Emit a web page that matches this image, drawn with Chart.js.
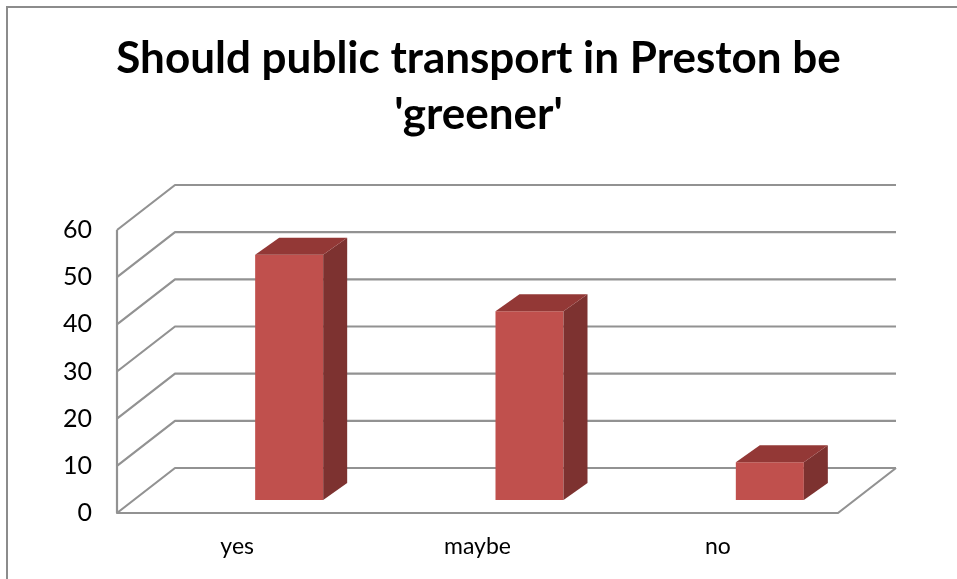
<!DOCTYPE html>
<html>
<head>
<meta charset="utf-8">
<title>Should public transport in Preston be 'greener'</title>
<script src="https://cdn.jsdelivr.net/npm/chart.js@4.4.1/dist/chart.umd.min.js"></script>
<style>
  html, body { margin: 0; padding: 0; background: #fff; }
  #wrap { position: relative; width: 957px; height: 579px; }
</style>
</head>
<body>
<div id="wrap"><canvas id="chart"></canvas></div>
<script>
  // ========================
  // Data
  // ========================
  const titleLines = ['Should public transport in Preston be', "'greener'"];
  const categories = ['yes', 'maybe', 'no'];
  const responses = [52, 40, 8];
  const yMin = 0;
  const yMax = 60;
  const yStep = 10;

  // ========================
  // Look (3D box geometry, colours)
  // ========================
  const FONT = 'Lato, "Open Sans", sans-serif';
  const GRID = '#929292';
  const DEPTH = { dx: 58, dy: -45 };     // floor / wall depth
  const BAR_SHIFT = { dx: 52, dy: -13 }; // front face of the bars, inside the box
  const BAR_DEPTH = { dx: 24, dy: -17 };
  const FRONT = '#c0504d', SIDE = '#7d3230', TOP = '#933836';

  // walls, floor and the slanted gridlines, all from the y scale ticks
  const wallsPlugin = {
    id: 'walls3d',
    beforeDraw(chart) {
      const ctx = chart.ctx;
      ctx.save();
      ctx.strokeStyle = '#8c8c8c';
      ctx.lineWidth = 2;
      ctx.strokeRect(7, 7, chart.width + 20, chart.height + 20);
      ctx.restore();
    },
    beforeDatasetsDraw(chart) {
      const ctx = chart.ctx;
      const ys = chart.scales.y;
      const { left, right } = chart.chartArea;
      const y0 = ys.getPixelForValue(yMin);
      ctx.save();
      ctx.strokeStyle = GRID;
      ctx.lineWidth = 2.2;
      ctx.lineJoin = 'round';
      ctx.beginPath();
      ys.ticks.forEach(t => {
        const y = ys.getPixelForValue(t.value);
        ctx.moveTo(left, y);
        ctx.lineTo(left + DEPTH.dx, y + DEPTH.dy);
        ctx.lineTo(right + DEPTH.dx, y + DEPTH.dy);
      });
      // front axis + floor
      ctx.moveTo(left, ys.getPixelForValue(yMax));
      ctx.lineTo(left, y0);
      ctx.lineTo(right, y0);
      ctx.lineTo(right + DEPTH.dx, y0 + DEPTH.dy);
      ctx.stroke();
      ctx.restore();
    },
    beforeDatasetDraw(chart) {
      chart.ctx.save();
      chart.ctx.translate(BAR_SHIFT.dx, BAR_SHIFT.dy);
    },
    afterDatasetDraw(chart, args) {
      const ctx = chart.ctx;
      ctx.restore();
      args.meta.data.forEach(bar => {
        const p = bar.getProps(['x', 'y', 'base', 'width'], true);
        const l = p.x - p.width / 2 + BAR_SHIFT.dx;
        const r = p.x + p.width / 2 + BAR_SHIFT.dx;
        const t = p.y + BAR_SHIFT.dy;
        const b = p.base + BAR_SHIFT.dy;
        ctx.save();
        // side
        ctx.fillStyle = SIDE;
        ctx.beginPath();
        ctx.moveTo(r, t);
        ctx.lineTo(r + BAR_DEPTH.dx, t + BAR_DEPTH.dy);
        ctx.lineTo(r + BAR_DEPTH.dx, b + BAR_DEPTH.dy);
        ctx.lineTo(r, b);
        ctx.closePath();
        ctx.fill();
        // top
        ctx.fillStyle = TOP;
        ctx.beginPath();
        ctx.moveTo(l, t);
        ctx.lineTo(r, t);
        ctx.lineTo(r + BAR_DEPTH.dx, t + BAR_DEPTH.dy);
        ctx.lineTo(l + BAR_DEPTH.dx, t + BAR_DEPTH.dy);
        ctx.closePath();
        ctx.fill();
        ctx.restore();
      });
    }
  };

  // ========================
  // Chart
  // ========================
  new Chart(document.getElementById('chart'), {
    type: 'bar',
    data: {
      labels: categories,
      datasets: [{
        data: responses,
        backgroundColor: FRONT,
        borderWidth: 0,
        barPercentage: 0.283,
        categoryPercentage: 1
      }]
    },
    options: {
      responsive: true,
      maintainAspectRatio: false,
      animation: false,
      events: [],
      plugins: {
        legend: { display: false },
        tooltip: { enabled: false },
        title: {
          display: true,
          text: titleLines,
          color: '#000',
          font: { family: FONT, size: 44, weight: 'bold', lineHeight: 56 / 44 },
          padding: { top: 31, bottom: 87 }
        }
      },
      scales: {
        x: {
          grid: { display: false, drawTicks: false },
          border: { display: false },
          ticks: { color: '#000', font: { family: FONT, size: 23 }, padding: 20 },
          afterFit(s) { s.height = 66; }
        },
        y: {
          min: yMin,
          max: yMax,
          grid: { display: false, drawTicks: false },
          border: { display: false },
          ticks: { stepSize: yStep, color: '#000', font: { family: FONT, size: 25 }, padding: 25 },
          afterFit(s) { s.width = 117; }
        },
        // empty strip on the right, keeps the title centred on the page
        spacer: {
          position: 'right',
          grid: { display: false, drawTicks: false },
          border: { display: false },
          ticks: { display: false },
          afterFit(s) { s.width = 119; }
        }
      }
    },
    plugins: [wallsPlugin]
  });
</script>
</body>
</html>
